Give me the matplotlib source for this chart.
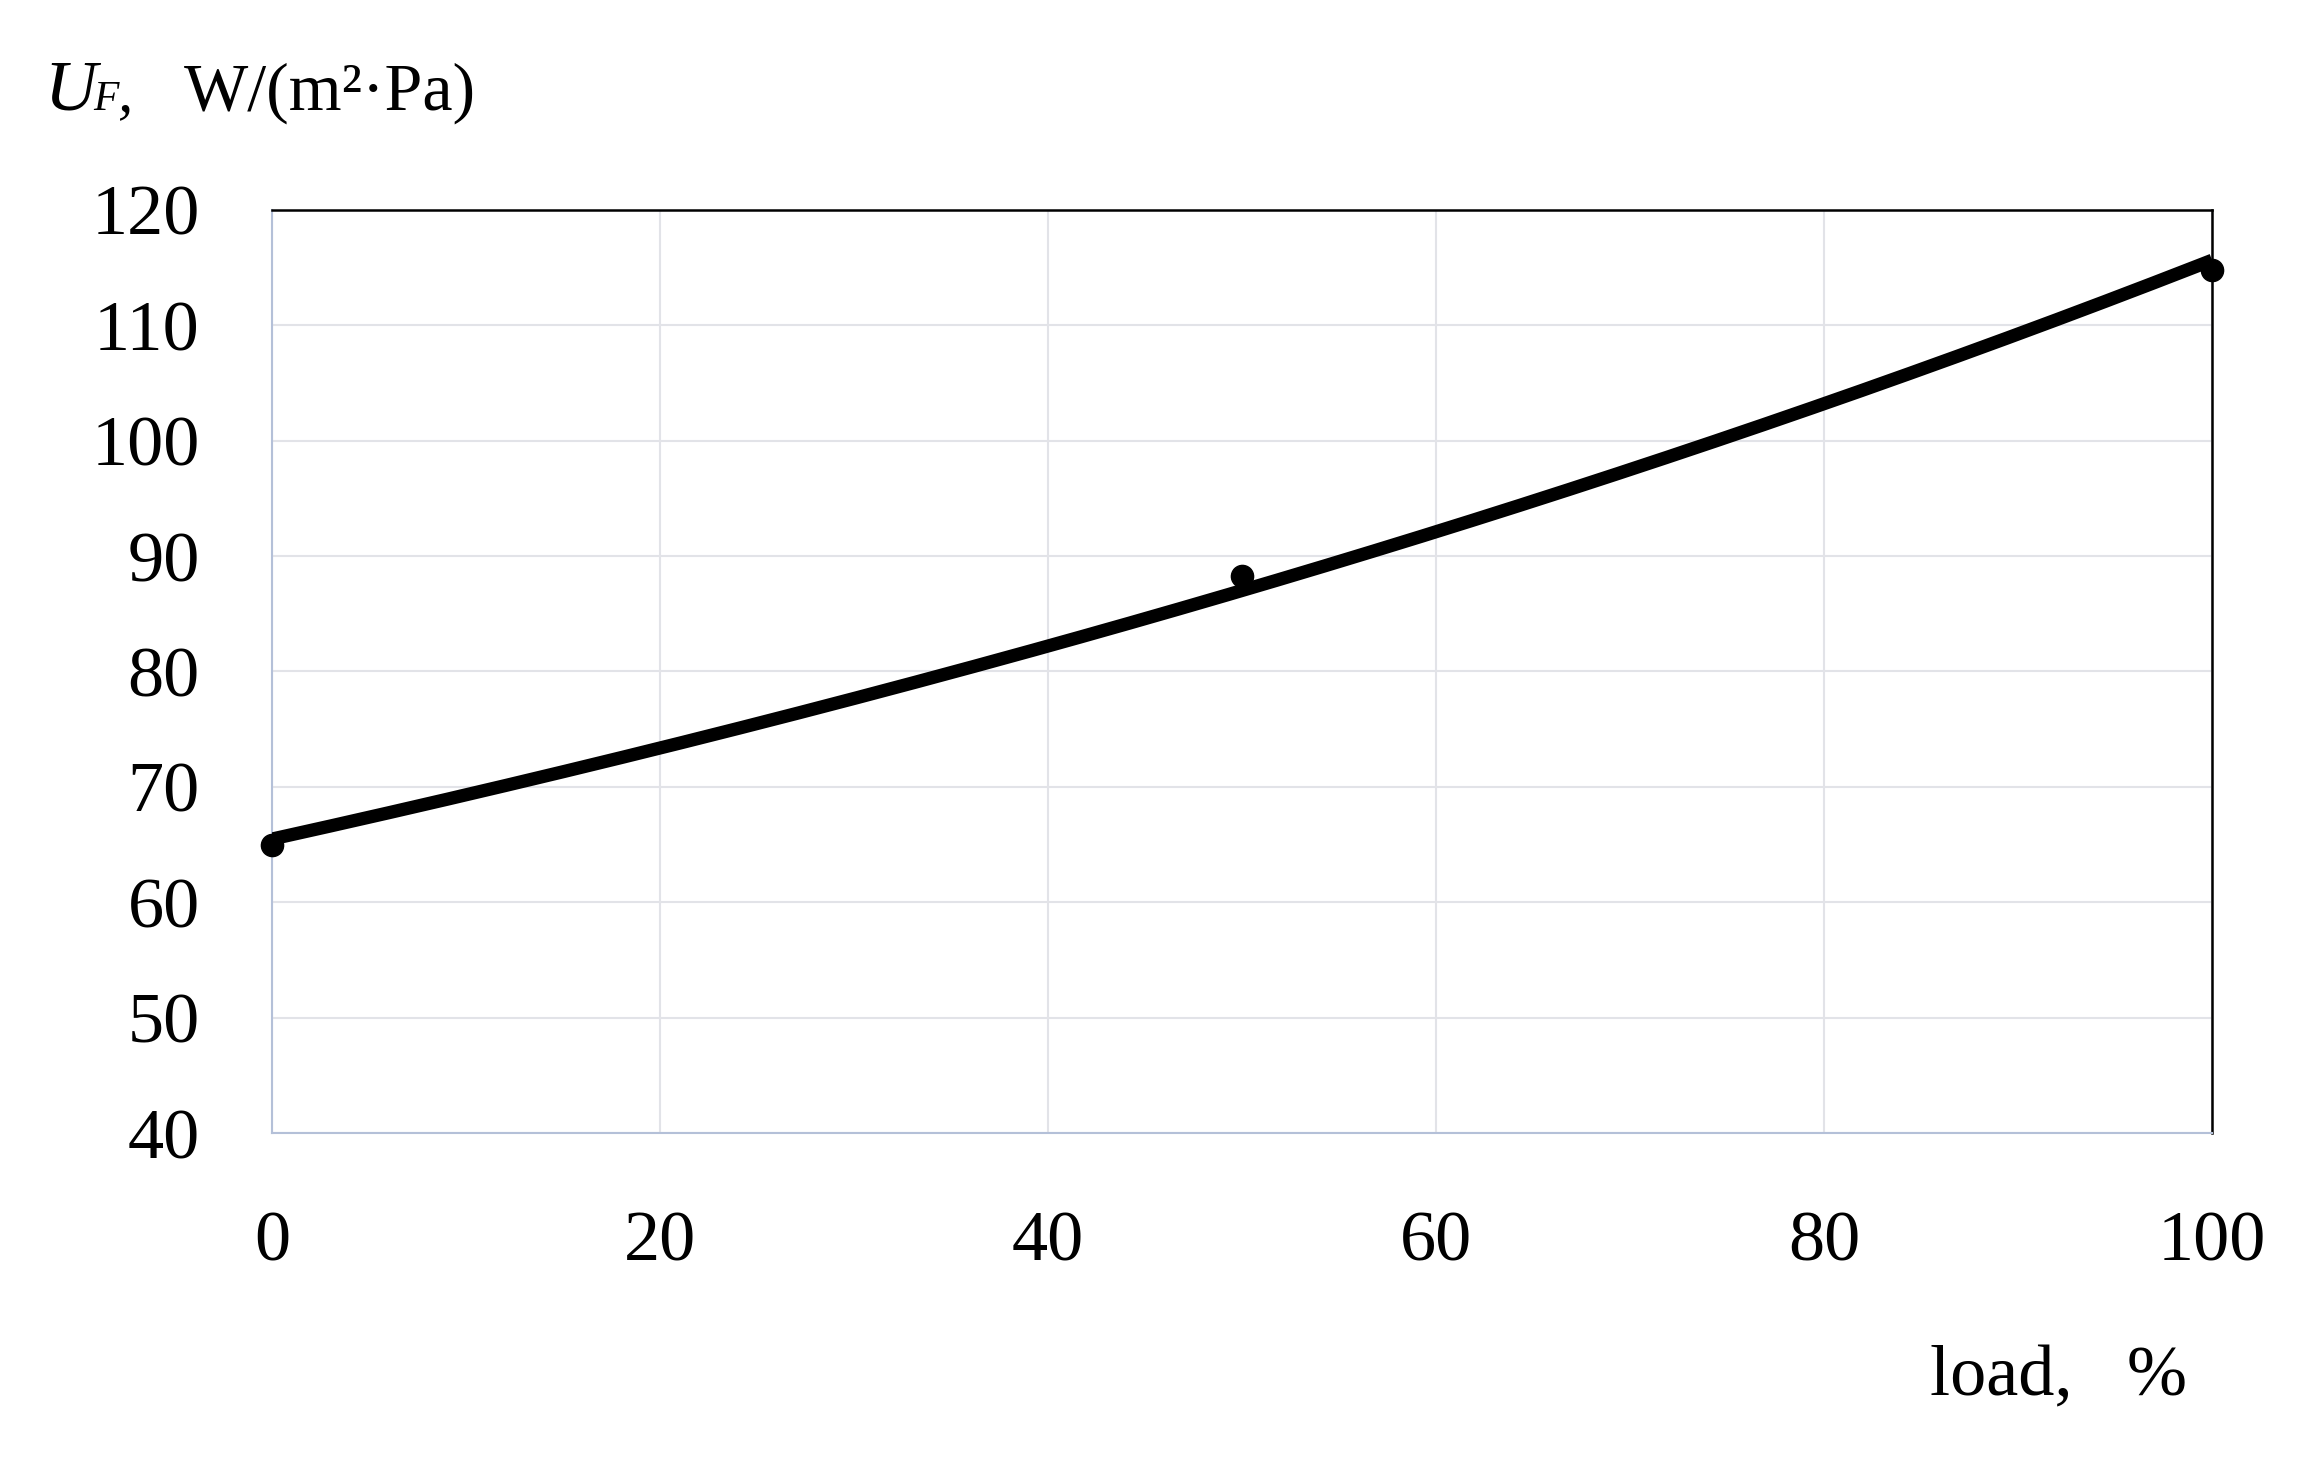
import numpy as np
import matplotlib.pyplot as plt

# measured points (load %, U_F)
load = [0, 50, 100]
uf = [65.0, 88.3, 114.8]

xticks = [0, 20, 40, 60, 80, 100]
yticks = [40, 50, 60, 70, 80, 90, 100, 110, 120]

plt.rcParams['font.family'] = ['Liberation Serif', 'DejaVu Serif']

fig = plt.figure(figsize=(23.05, 14.58), dpi=100)
ax = fig.add_axes([0.118, 0.2229, 0.8417, 0.6331])

# exponential trendline fitted to the measured points (as in the original)
b, a = np.polyfit(load, np.log(uf), 1)
xs = np.linspace(0, 100, 200)
ax.plot(xs, np.exp(a + b * xs), color='black', lw=9.5, solid_capstyle='butt', zorder=3)
ax.plot(load, uf, 'o', color='black', ms=16, zorder=4, clip_on=False)

ax.set_xlim(0, 100)
ax.set_ylim(40, 120)
ax.set_xticks(xticks)
ax.set_yticks(yticks)
ax.grid(True, color='#e2e3e8', lw=1.5)
ax.set_axisbelow(True)
ax.tick_params(length=0, labelsize=52)
ax.tick_params(axis='y', pad=52)
ax.tick_params(axis='x', pad=56)

for s in ['left', 'bottom']:
    ax.spines[s].set_color('#b4c0d8')
    ax.spines[s].set_linewidth(1.5)
for s in ['top', 'right']:
    ax.spines[s].set_color('black')
    ax.spines[s].set_linewidth(1.8)

# axis titles
fig.text(1930 / 2305, 1 - 1395 / 1458, 'load,   %', fontsize=52, ha='left', va='baseline')
fig.text(44 / 2305, 1 - 110 / 1458, 'U', fontsize=52, style='italic', ha='left', va='baseline')
fig.text(93 / 2305, 1 - 110 / 1458, 'F', fontsize=30, style='italic', ha='left', va='baseline')
fig.text(118 / 2305, 1 - 110 / 1458, ',', fontsize=44, style='italic', ha='left', va='baseline')
fig.text(184 / 2305, 1 - 110 / 1458, 'W/(m²·Pa)', fontsize=49, ha='left', va='baseline')

fig.savefig('out.png', dpi=100)
